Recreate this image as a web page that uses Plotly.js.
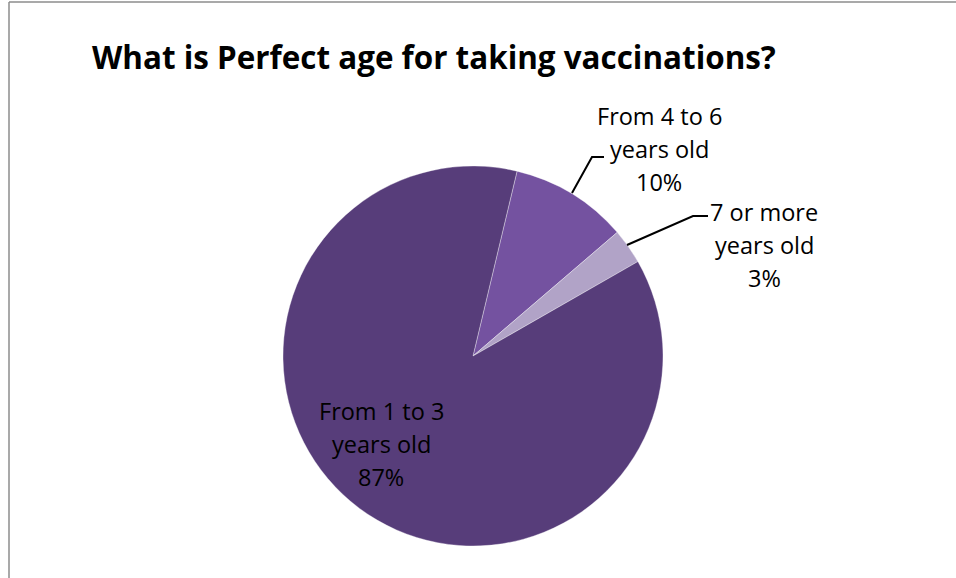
<!DOCTYPE html>
<html>
<head>
<meta charset="utf-8">
<script src="https://cdn.plot.ly/plotly-3.0.1.min.js"></script>
<style>
  html, body { margin: 0; padding: 0; background: #ffffff; }
  #chart { width: 956px; height: 578px; }
</style>
</head>
<body>
<div id="chart"></div>
<script>
// Survey answers, in drawing order (clockwise from the 4-6 slice)
const ageGroups = ['From 4 to 6 years old', '7 or more years old', 'From 1 to 3 years old'];
const labelLines = [['From 4 to 6', 'years old'], ['7 or more', 'years old'], ['From 1 to 3', 'years old']];
const shares = [10, 3, 87];
const sliceColors = ['#7452a0', '#b1a3c7', '#573d7a'];

const W = 956, H = 578;
const px = x => x / W;
const py = y => 1 - y / H;

const labelFont = { family: '"Open Sans", Lato, sans-serif', size: 23.5, color: '#000000' };
const lineGap = 33;

// Label anchors (pixel centre of first line) and leader-line paths for each slice
const labelPos = [[659, 116], [764, 212], [381, 411]];
const leaders = [
  [[572, 193], [592, 157], [604, 157]],
  [[627, 245], [693, 216], [708, 216]],
  null
];

// each label is stacked line by line so the line spacing can be set
const annotations = [];
shares.forEach((v, i) => {
  const lines = labelLines[i].concat([v + '%']);
  lines.forEach((t, k) => {
    annotations.push({
      text: t,
      xref: 'paper', yref: 'paper',
      x: px(labelPos[i][0]), y: py(labelPos[i][1] + k * lineGap),
      xanchor: 'center', yanchor: 'middle',
      showarrow: false, align: 'center',
      font: labelFont
    });
  });
});

const shapes = [
  // chart frame (top and left edges)
  { type: 'line', xref: 'paper', yref: 'paper', x0: px(9), y0: py(2), x1: 1, y1: py(2),
    line: { color: '#8c8c8c', width: 1.5 } },
  { type: 'line', xref: 'paper', yref: 'paper', x0: px(9), y0: py(2), x1: px(9), y1: 0,
    line: { color: '#8c8c8c', width: 1.5 } }
];
leaders.forEach(pts => {
  if (!pts) return;
  const d = pts.map((p, k) => (k ? 'L' : 'M') + px(p[0]) + ',' + py(p[1])).join(' ');
  shapes.push({ type: 'path', xref: 'paper', yref: 'paper', path: d,
    line: { color: '#000000', width: 2 } });
});

const trace = {
  type: 'pie',
  values: shares,
  labels: ageGroups,
  sort: false,
  direction: 'clockwise',
  rotation: 13.4,
  textinfo: 'none',
  hoverinfo: 'none',
  marker: { colors: sliceColors, line: { color: 'rgba(255,255,255,0.35)', width: 1 } },
  domain: { x: [px(283), px(663)], y: [1 - 546 / H, 1 - 166 / H] },
  showlegend: false
};

const layout = {
  width: W, height: H,
  margin: { l: 0, r: 0, t: 0, b: 0 },
  paper_bgcolor: '#ffffff',
  title: {
    text: '<b>What is Perfect age for taking vaccinations?</b>',
    x: px(92), xanchor: 'left', xref: 'paper',
    y: py(58), yanchor: 'middle', yref: 'paper',
    font: { family: '"Open Sans", Lato, sans-serif', size: 31.4, color: '#000000' }
  },
  annotations: annotations,
  shapes: shapes,
  showlegend: false
};

Plotly.newPlot('chart', [trace], layout, { displayModeBar: false, staticPlot: true });
</script>
</body>
</html>
